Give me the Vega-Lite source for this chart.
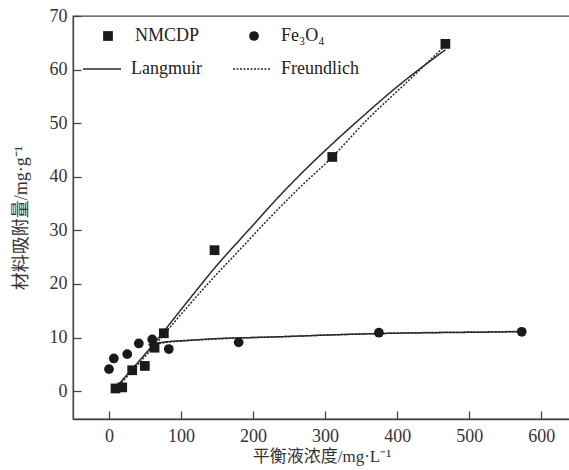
{
  "$schema": "https://vega.github.io/schema/vega-lite/v6.json",
  "width": 497,
  "height": 403,
  "autosize": "none",
  "padding": {"left": 73, "top": 16, "right": 0, "bottom": 51},
  "background": "white",
  "config": {
    "view": {"stroke": "#444", "strokeWidth": 1.3},
    "axis": {
      "grid": false,
      "domainColor": "#444",
      "domainWidth": 1.3,
      "tickColor": "#444",
      "tickWidth": 1.3,
      "tickSize": -8,
      "labelFont": "Liberation Serif",
      "labelFontSize": 18,
      "labelColor": "#333",
      "titleFont": "Liberation Serif, Noto Sans CJK SC",
      "titleFontSize": 17,
      "titleFontWeight": "normal",
      "titleColor": "#333"
    },
    "legend": {
      "labelFont": "Liberation Serif",
      "labelFontSize": 18,
      "labelColor": "#222",
      "title": null
    }
  },
  "datasets": {
    "pts": [
      {"series": "NMCDP", "c": 9, "q": 0.5},
      {"series": "NMCDP", "c": 18.3, "q": 0.7},
      {"series": "NMCDP", "c": 32.2, "q": 3.9},
      {"series": "NMCDP", "c": 49.7, "q": 4.7},
      {"series": "NMCDP", "c": 63.2, "q": 8.1},
      {"series": "NMCDP", "c": 76.1, "q": 10.8},
      {"series": "NMCDP", "c": 146.5, "q": 26.3},
      {"series": "NMCDP", "c": 310, "q": 43.7},
      {"series": "NMCDP", "c": 467, "q": 64.8},
      {"series": "Fe₃O₄", "c": 0, "q": 4.1},
      {"series": "Fe₃O₄", "c": 6.7, "q": 6.1},
      {"series": "Fe₃O₄", "c": 25.3, "q": 6.9},
      {"series": "Fe₃O₄", "c": 41.4, "q": 8.9},
      {"series": "Fe₃O₄", "c": 60, "q": 9.65},
      {"series": "Fe₃O₄", "c": 83, "q": 7.85},
      {"series": "Fe₃O₄", "c": 180, "q": 9.1},
      {"series": "Fe₃O₄", "c": 374.7, "q": 10.9},
      {"series": "Fe₃O₄", "c": 573, "q": 11.07}
    ],
    "fits": [
      {"series": "NMCDP", "model": "Langmuir", "c": 11, "q": 0.9},
      {"series": "NMCDP", "model": "Langmuir", "c": 62, "q": 8.8},
      {"series": "NMCDP", "model": "Langmuir", "c": 110, "q": 16.9},
      {"series": "NMCDP", "model": "Langmuir", "c": 155, "q": 24.3},
      {"series": "NMCDP", "model": "Langmuir", "c": 184, "q": 28.6},
      {"series": "NMCDP", "model": "Langmuir", "c": 250, "q": 38.3},
      {"series": "NMCDP", "model": "Langmuir", "c": 321, "q": 47.5},
      {"series": "NMCDP", "model": "Langmuir", "c": 345, "q": 50.4},
      {"series": "NMCDP", "model": "Langmuir", "c": 400, "q": 56.8},
      {"series": "NMCDP", "model": "Langmuir", "c": 467, "q": 63.7},
      {"series": "NMCDP", "model": "Freundlich", "c": 11, "q": 0.6},
      {"series": "NMCDP", "model": "Freundlich", "c": 62, "q": 8.3},
      {"series": "NMCDP", "model": "Freundlich", "c": 110, "q": 15.9},
      {"series": "NMCDP", "model": "Freundlich", "c": 150, "q": 21.9},
      {"series": "NMCDP", "model": "Freundlich", "c": 183, "q": 26.6},
      {"series": "NMCDP", "model": "Freundlich", "c": 220, "q": 31.9},
      {"series": "NMCDP", "model": "Freundlich", "c": 261, "q": 37.5},
      {"series": "NMCDP", "model": "Freundlich", "c": 310, "q": 43.7},
      {"series": "NMCDP", "model": "Freundlich", "c": 358, "q": 50.6},
      {"series": "NMCDP", "model": "Freundlich", "c": 410, "q": 57.2},
      {"series": "NMCDP", "model": "Freundlich", "c": 467, "q": 64.5},
      {"series": "Fe₃O₄", "model": "Langmuir", "c": 55, "q": 8.7},
      {"series": "Fe₃O₄", "model": "Langmuir", "c": 80, "q": 9.2},
      {"series": "Fe₃O₄", "model": "Langmuir", "c": 113, "q": 9.5},
      {"series": "Fe₃O₄", "model": "Langmuir", "c": 150, "q": 9.8},
      {"series": "Fe₃O₄", "model": "Langmuir", "c": 200, "q": 10.0},
      {"series": "Fe₃O₄", "model": "Langmuir", "c": 238, "q": 10.15},
      {"series": "Fe₃O₄", "model": "Langmuir", "c": 300, "q": 10.45},
      {"series": "Fe₃O₄", "model": "Langmuir", "c": 375, "q": 10.75},
      {"series": "Fe₃O₄", "model": "Langmuir", "c": 450, "q": 10.9},
      {"series": "Fe₃O₄", "model": "Langmuir", "c": 520, "q": 11.0},
      {"series": "Fe₃O₄", "model": "Langmuir", "c": 575, "q": 11.1},
      {"series": "Fe₃O₄", "model": "Freundlich", "c": 55, "q": 8.6},
      {"series": "Fe₃O₄", "model": "Freundlich", "c": 80, "q": 9.1},
      {"series": "Fe₃O₄", "model": "Freundlich", "c": 113, "q": 9.45},
      {"series": "Fe₃O₄", "model": "Freundlich", "c": 150, "q": 9.75},
      {"series": "Fe₃O₄", "model": "Freundlich", "c": 200, "q": 10.0},
      {"series": "Fe₃O₄", "model": "Freundlich", "c": 238, "q": 10.15},
      {"series": "Fe₃O₄", "model": "Freundlich", "c": 300, "q": 10.45},
      {"series": "Fe₃O₄", "model": "Freundlich", "c": 375, "q": 10.75},
      {"series": "Fe₃O₄", "model": "Freundlich", "c": 450, "q": 10.95},
      {"series": "Fe₃O₄", "model": "Freundlich", "c": 520, "q": 11.05},
      {"series": "Fe₃O₄", "model": "Freundlich", "c": 575, "q": 11.15}
    ]
  },
  "encoding": {
    "x": {
      "field": "c",
      "type": "quantitative",
      "scale": {"domain": [-50, 640], "nice": false, "zero": false},
      "axis": {"values": [0, 100, 200, 300, 400, 500, 600], "title": "平衡液浓度/mg·L⁻¹", "labelPadding": 16, "titlePadding": 3}
    },
    "y": {
      "field": "q",
      "type": "quantitative",
      "scale": {"domain": [-5.2, 70], "nice": false, "zero": false},
      "axis": {"values": [0, 10, 20, 30, 40, 50, 60, 70], "title": "材料吸附量/mg·g⁻¹", "titleFontSize": 18, "labelPadding": 14, "titlePadding": 19}
    }
  },
  "layer": [
    {
      "data": {"name": "fits"},
      "mark": {"type": "line", "color": "#2a2a2a", "strokeWidth": 1.5, "interpolate": "monotone", "clip": true},
      "encoding": {
        "detail": {"field": "series"},
        "strokeDash": {
          "field": "model",
          "type": "nominal",
          "scale": {"domain": ["Langmuir", "Freundlich"], "range": [[1, 0], [2, 1.5]]},
          "legend": {
            "orient": "none",
            "legendX": 9,
            "legendY": 33,
            "columns": 2,
            "columnPadding": 28,
            "symbolType": "stroke",
            "symbolSize": 1444,
            "symbolStrokeWidth": 1.5,
            "symbolStrokeColor": "#2a2a2a",
            "labelOffset": 9
          }
        }
      }
    },
    {
      "data": {"name": "pts"},
      "mark": {"type": "point", "filled": true, "color": "#1a1a1a", "opacity": 1, "size": 95},
      "encoding": {
        "shape": {
          "field": "series",
          "type": "nominal",
          "scale": {"domain": ["NMCDP", "Fe₃O₄"], "range": ["square", "circle"]},
          "legend": {
            "orient": "none",
            "legendX": 26,
            "legendY": 11,
            "columns": 2,
            "columnPadding": 45,
            "symbolSize": 95,
            "symbolFillColor": "#1a1a1a",
            "symbolStrokeWidth": 0,
            "labelOffset": 18
          }
        }
      }
    }
  ]
}
